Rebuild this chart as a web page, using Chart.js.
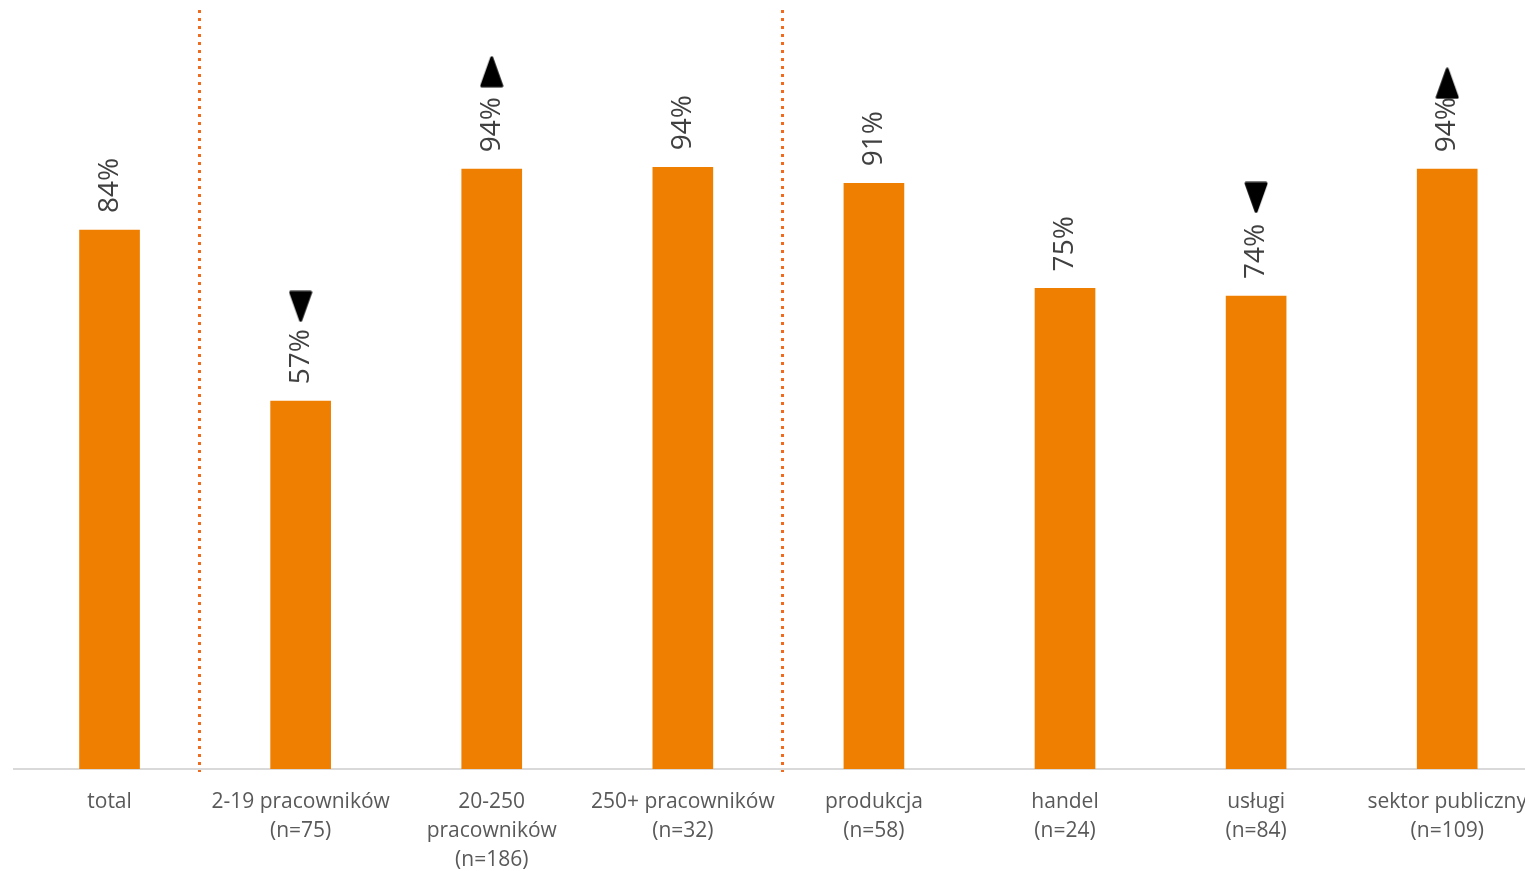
<!DOCTYPE html>
<html lang="pl">
<head>
<meta charset="utf-8">
<title>Wykres</title>
<script src="https://cdn.jsdelivr.net/npm/chart.js@4.4.1/dist/chart.umd.min.js"></script>
<style>
    html, body { margin: 0; padding: 0; background: #fff; overflow: hidden; }
    #wrap { position: relative; width: 1545px; height: 871px; }
    #chart { display: block; }
</style>
</head>
<body>
<div id="wrap"><canvas id="chart" width="1545" height="871"></canvas></div>
<script>
// Dane
const kategorie = [
    ['total'],
    ['2-19 pracowników', '(n=75)'],
    ['20-250', 'pracowników', '(n=186)'],
    ['250+ pracowników', '(n=32)'],
    ['produkcja', '(n=58)'],
    ['handel', '(n=24)'],
    ['usługi', '(n=84)'],
    ['sektor publiczny', '(n=109)']
];
const wartosci = [84.1, 57.4, 93.6, 93.9, 91.4, 75.0, 73.8, 93.6];
// strzałki istotności (pozycja w skali osi Y i kierunek)
const strzalkiPoz = [null, 72.2, 108.8, null, null, null, 89.2, 107.0];
const strzalkiKier = ['', 'down', 'up', '', '', '', 'down', 'up'];
// linie podziału grup (pozycja na osi kategorii)
const podzialy = [0.47, 3.52];

const KOLOR_SLUPKA = '#EF7F00';
const KOLOR_PODZIALU = '#F26B1D';

function trojkat(kierunek) {
    const c = document.createElement('canvas');
    c.width = 24;
    c.height = 32;
    const g = c.getContext('2d');
    g.fillStyle = '#000';
    g.strokeStyle = '#000';
    g.lineWidth = 3;
    g.lineJoin = 'round';
    g.beginPath();
    if (kierunek === 'up') {
        g.moveTo(12, 2); g.lineTo(22, 30); g.lineTo(2, 30);
    } else {
        g.moveTo(2, 2); g.lineTo(22, 2); g.lineTo(12, 30);
    }
    g.closePath();
    g.fill();
    g.stroke();
    return c;
}
const ikonaGora = trojkat('up');
const ikonaDol = trojkat('down');

// etykiety wartości, obrócone pionowo nad słupkami
const etykietyPlugin = {
    id: 'etykiety',
    afterDatasetDraw(chart, args) {
        if (args.index !== 0) return;
        const ctx = chart.ctx;
        const meta = chart.getDatasetMeta(0);
        ctx.save();
        ctx.fillStyle = '#404040';
        ctx.font = '28px "Open Sans", sans-serif';
        ctx.textAlign = 'left';
        ctx.textBaseline = 'middle';
        meta.data.forEach((bar, i) => {
            ctx.save();
            ctx.translate(bar.x, bar.y - 17);
            ctx.rotate(-Math.PI / 2);
            ctx.fillText(Math.round(wartosci[i]) + '%', 0, 0);
            ctx.restore();
        });
        ctx.restore();
    }
};

// kropkowane linie oddzielające grupy
const podzialyPlugin = {
    id: 'podzialy',
    beforeDatasetsDraw(chart) {
        const ctx = chart.ctx;
        const x = chart.scales.x;
        ctx.save();
        ctx.strokeStyle = KOLOR_PODZIALU;
        ctx.lineWidth = 3;
        ctx.setLineDash([3, 5]);
        podzialy.forEach(p => {
            const px = Math.round(x.getPixelForValue(p)) + 0.5;
            ctx.beginPath();
            ctx.moveTo(px, 10);
            ctx.lineTo(px, chart.chartArea.bottom + 3);
            ctx.stroke();
        });
        ctx.restore();
    }
};

new Chart(document.getElementById('chart'), {
    type: 'bar',
    data: {
        labels: kategorie,
        datasets: [
            {
                data: wartosci,
                backgroundColor: KOLOR_SLUPKA,
                barThickness: 60,
                order: 2
            },
            {
                type: 'line',
                data: strzalkiPoz,
                showLine: false,
                pointStyle: c => strzalkiKier[c.dataIndex] === 'up' ? ikonaGora : ikonaDol,
                pointRadius: 12,
                clip: false,
                order: 1
            }
        ]
    },
    options: {
        responsive: false,
        animation: false,
        layout: { autoPadding: false, padding: { left: 14, right: 1, top: 0, bottom: 0 } },
        plugins: {
            legend: { display: false },
            tooltip: { enabled: false }
        },
        scales: {
            x: {
                grid: { display: false, drawTicks: false },
                border: { display: true, color: '#D9D9D9', width: 2 },
                ticks: {
                    color: '#595959',
                    padding: 18,
                    maxRotation: 0,
                    autoSkip: false,
                    font: { family: '"Open Sans", sans-serif', size: 21, lineHeight: 1.4 }
                },
                afterFit: s => { s.height = 102; }
            },
            y: {
                display: false,
                min: 0,
                max: 120
            }
        }
    },
    plugins: [podzialyPlugin, etykietyPlugin]
});
</script>
</body>
</html>
